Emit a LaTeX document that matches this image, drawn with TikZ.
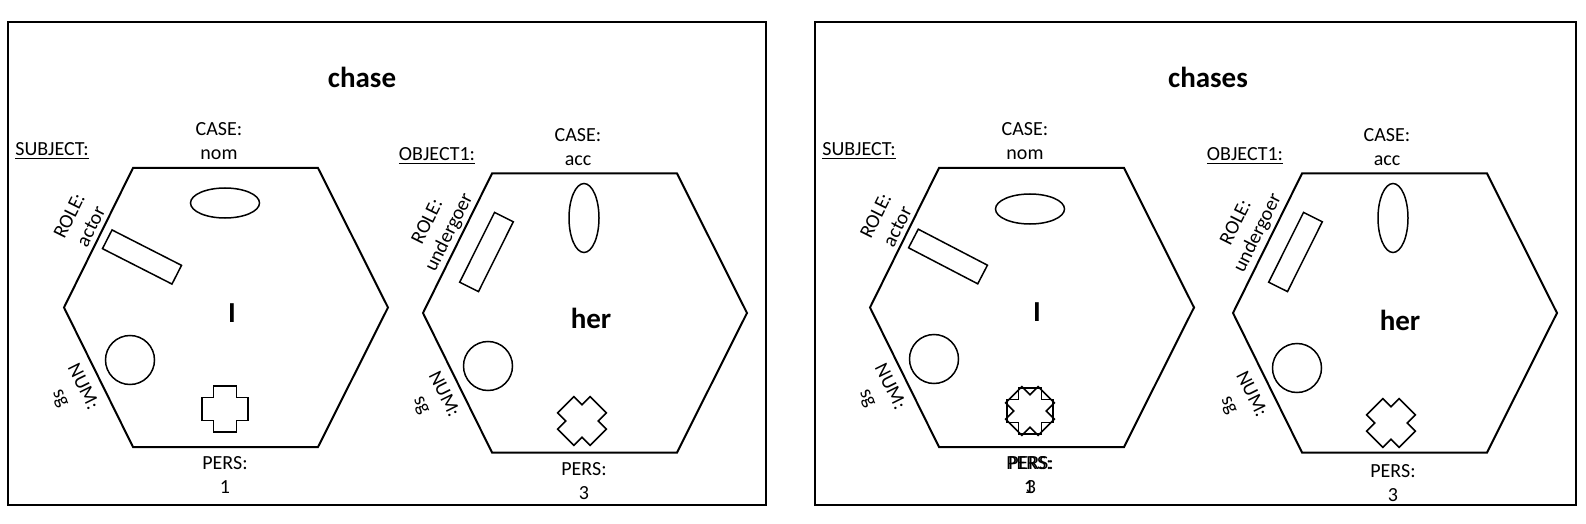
\documentclass[tikz,border=0pt]{standalone}
\usepackage{fontspec}
\setmainfont{Carlito}
\usetikzlibrary{shapes.geometric, positioning}

\begin{document}
\begin{tikzpicture}[x=0.5pt, y=-0.5pt,
  frame/.style={draw, line width=1pt},
  shp/.style={draw, line width=0.75pt},
  lbl/.style={align=center, font=\fontsize{10}{12}\selectfont, inner sep=0pt},
  word/.style={font=\fontsize{14.5}{17}\selectfont\bfseries, inner sep=0pt},
  oval/.style={shp, ellipse, inner sep=0pt, minimum width=34.5pt, minimum height=15pt},
  ring/.style={shp, circle, inner sep=0pt, minimum size=24.5pt},
  bar/.style={shp, rectangle, inner sep=0pt, minimum width=39pt, minimum height=10.5pt},
  hexa/.pic={\draw[line width=1pt] (-93,-139.5) -- (92,-139.5) -- (162,0) -- (92,139.5) -- (-93,139.5) -- (-162,0) -- cycle;},
  plus/.pic={\draw[shp] (-11.5,-23) -- (11.5,-23) -- (11.5,-11.5) -- (23,-11.5) -- (23,11.5) -- (11.5,11.5) -- (11.5,23) -- (-11.5,23) -- (-11.5,11.5) -- (-23,11.5) -- (-23,-11.5) -- (-11.5,-11.5) -- cycle;}]
  \useasboundingbox (0,0) rectangle (1586,524);
  \draw[frame] (8,22) rectangle (766,505);
  \draw[frame] (815,22) rectangle (1576,505);
  \node[word] (t1) at (362,77) {chase};
  \node[word] (t2) at (1208,77) {chases};

  \pic at (226,307.5) {hexa};
  \node[lbl] (subj1) at (52,151) {\underline{SUBJECT:}};
  \node[lbl] (case1) at (219,141) {CASE:\\nom};
  \node[lbl] (pers1) at (225,475.5) {PERS:\\1};
  \node[lbl, rotate=63.6] (role1) at (80,221) {ROLE:\\actor};
  \node[lbl, rotate=-63.6] (num1) at (71.5,392.5) {NUM:\\sg};
  \node[oval] (oval1) at (225,203) {};
  \node[bar, rotate=-27] (bar1) at (142,257) {};
  \node[ring] (ring1) at (130,360) {};
  \pic at (225,409) {plus};
  \node[word] (w1) at (232,313) {I};

  \pic at (585,313) {hexa};
  \node[lbl] (obj1) at (437,156) {\underline{OBJECT1:}};
  \node[lbl] (case2) at (578,147) {CASE:\\acc};
  \node[lbl] (pers2) at (584,481) {PERS:\\3};
  \node[lbl, rotate=63.6] (role2) at (439,227.5) {ROLE:\\undergoer};
  \node[lbl, rotate=-63.6] (num2) at (432.5,400) {NUM:\\sg};
  \node[oval, rotate=90] (oval2) at (584,218) {};
  \node[bar, rotate=63.5] (bar2) at (486.5,252) {};
  \node[ring] (ring2) at (488,366) {};
  \pic[rotate=45] at (582,421) {plus};
  \node[word] (w2) at (591,318) {her};

  \pic at (1032,307.5) {hexa};
  \node[lbl] (subj3) at (859,151) {\underline{SUBJECT:}};
  \node[lbl] (case3) at (1025,141) {CASE:\\nom};
  \node[lbl] (pers3) at (1029,475) {PERS:\\1};
  \node[lbl] (pers3b) at (1031,475) {PERS:\\3};
  \node[lbl, rotate=63.6] (role3) at (886.5,221) {ROLE:\\actor};
  \node[lbl, rotate=-63.6] (num3) at (878.5,392.5) {NUM:\\sg};
  \node[oval] (oval3) at (1030,209) {};
  \node[bar, rotate=-27.5] (bar3) at (948,256.5) {};
  \node[ring] (ring3) at (934,359) {};
  \pic at (1030,411) {plus};
  \pic[rotate=45] at (1030,411) {plus};
  \node[word] (w3) at (1037,312) {I};

  \pic at (1395,313) {hexa};
  \node[lbl] (obj4) at (1245,156) {\underline{OBJECT1:}};
  \node[lbl] (case4) at (1387,147) {CASE:\\acc};
  \node[lbl] (pers4) at (1393,483) {PERS:\\3};
  \node[lbl, rotate=63.6] (role4) at (1247.5,228) {ROLE:\\undergoer};
  \node[lbl, rotate=-63.6] (num4) at (1240,400) {NUM:\\sg};
  \node[oval, rotate=90] (oval4) at (1393,218) {};
  \node[bar, rotate=63.5] (bar4) at (1295.5,252) {};
  \node[ring] (ring4) at (1297,368) {};
  \pic[rotate=45] at (1391,423) {plus};
  \node[word] (w4) at (1400,320) {her};
\end{tikzpicture}
\end{document}
